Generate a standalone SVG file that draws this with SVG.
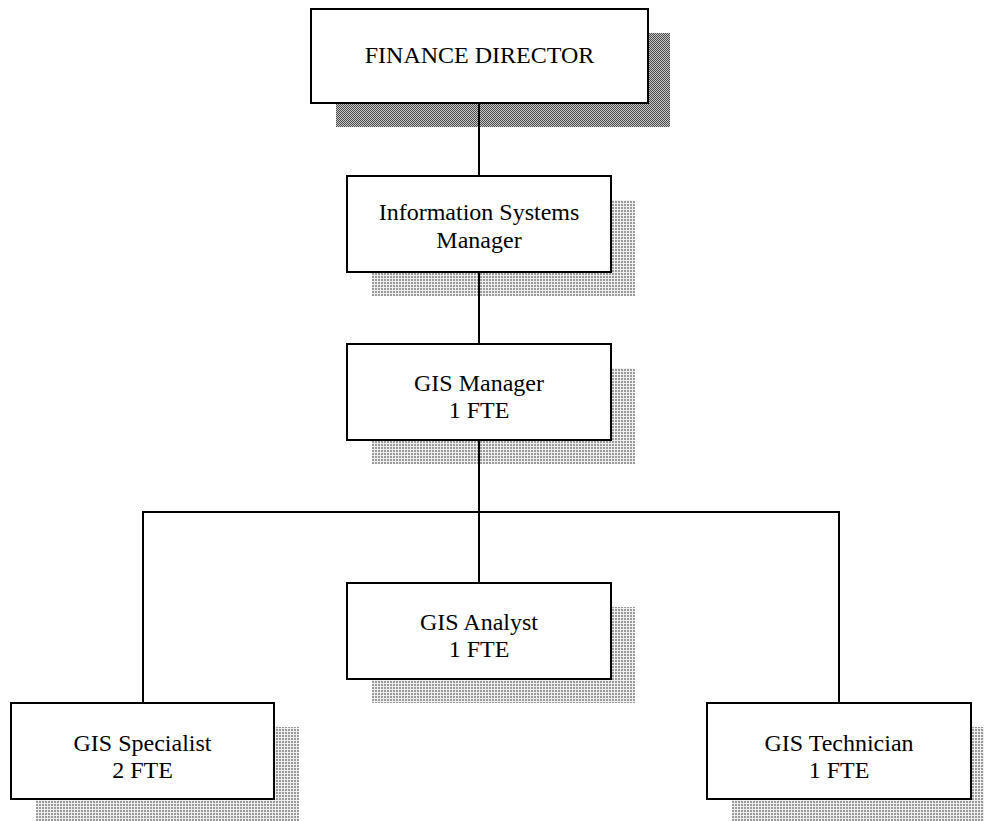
<svg xmlns="http://www.w3.org/2000/svg" width="984" height="821" viewBox="0 0 984 821">
<defs>
<pattern id="dark" width="2" height="2" patternUnits="userSpaceOnUse">
<rect width="2" height="2" fill="#c8c8c8"/>
<rect width="1" height="1" fill="#4a4a4a"/>
<rect x="1" y="1" width="1" height="1" fill="#4a4a4a"/>
</pattern>
<pattern id="light" width="3" height="3" patternUnits="userSpaceOnUse">
<rect width="3" height="3" fill="#eeeeee"/>
<rect width="2" height="2" fill="#9a9a9a"/>
</pattern>
<style>
.box{fill:#fff;stroke:#000;stroke-width:2}
.sd{fill:url(#dark)}
.sl{fill:url(#light)}
.t{font-family:"Liberation Serif","Times New Roman",serif;font-size:24px;fill:#000;text-anchor:middle}
.c{stroke:#000;stroke-width:2;fill:none}
</style>
</defs>
<rect width="984" height="821" fill="#fff"/>
<g id="shadows">
<rect class="sd" x="336" y="33" width="334" height="94"/>
<rect class="sl" x="372" y="200" width="263" height="96"/>
<rect class="sl" x="372" y="368" width="263" height="96"/>
<rect class="sl" x="372" y="607" width="263" height="96"/>
<rect class="sl" x="36" y="727" width="263" height="96"/>
<rect class="sl" x="732" y="727" width="263" height="96"/>
</g>
<g id="connectors">
<line class="c" x1="479" y1="103" x2="479" y2="176"/>
<line class="c" x1="479" y1="272" x2="479" y2="344"/>
<line class="c" x1="479" y1="440" x2="479" y2="583"/>
<polyline class="c" points="143,703 143,512 839,512 839,703"/>
</g>
<g id="finance-director">
<rect class="box" x="311" y="9" width="337" height="94"/>
<text class="t" x="479.5" y="63">FINANCE DIRECTOR</text>
</g>
<g id="information-systems-manager">
<rect class="box" x="347" y="176" width="264" height="96"/>
<text class="t" x="479" y="220">Information Systems</text>
<text class="t" x="479" y="248">Manager</text>
</g>
<g id="gis-manager">
<rect class="box" x="347" y="344" width="264" height="96"/>
<text class="t" x="479" y="391">GIS Manager</text>
<text class="t" x="479" y="418">1 FTE</text>
</g>
<g id="gis-analyst">
<rect class="box" x="347" y="583" width="264" height="96"/>
<text class="t" x="479" y="630">GIS Analyst</text>
<text class="t" x="479" y="657">1 FTE</text>
</g>
<g id="gis-specialist">
<rect class="box" x="11" y="703" width="263" height="96"/>
<text class="t" x="142.5" y="751">GIS Specialist</text>
<text class="t" x="142.5" y="778">2 FTE</text>
</g>
<g id="gis-technician">
<rect class="box" x="707" y="703" width="264" height="96"/>
<text class="t" x="839" y="751">GIS Technician</text>
<text class="t" x="839" y="778">1 FTE</text>
</g>
</svg>
